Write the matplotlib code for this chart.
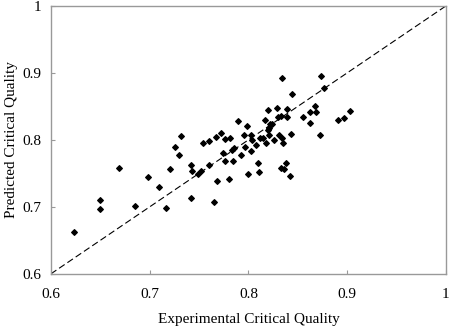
import numpy as np
import matplotlib
matplotlib.use("Agg")
import matplotlib.pyplot as plt

plt.rcParams['font.family'] = ['Liberation Serif', 'DejaVu Serif']

# experimental vs predicted critical quality
exp_q = [0.623, 0.650, 0.650, 0.669, 0.685, 0.698, 0.709, 0.717, 0.721, 0.726,
         0.730, 0.732, 0.742, 0.743, 0.742, 0.749, 0.752, 0.754, 0.760, 0.760,
         0.765, 0.767, 0.768, 0.772, 0.774, 0.776, 0.776, 0.780, 0.781, 0.783,
         0.784, 0.785, 0.789, 0.793, 0.796, 0.797, 0.799, 0.800, 0.803, 0.803,
         0.804, 0.808, 0.810, 0.811, 0.812, 0.815, 0.817, 0.818, 0.820, 0.820,
         0.821, 0.821, 0.822, 0.824, 0.826, 0.829, 0.830, 0.831, 0.833, 0.833,
         0.834, 0.834, 0.835, 0.836, 0.838, 0.839, 0.839, 0.842, 0.843, 0.844,
         0.855, 0.862, 0.862, 0.867, 0.868, 0.872, 0.873, 0.877, 0.891, 0.897,
         0.903]
pred_q = [0.662, 0.710, 0.697, 0.758, 0.702, 0.744, 0.730, 0.698, 0.757, 0.789,
          0.778, 0.806, 0.762, 0.753, 0.713, 0.749, 0.754, 0.796, 0.799, 0.762,
          0.708, 0.805, 0.739, 0.811, 0.781, 0.769, 0.802, 0.742, 0.803, 0.785,
          0.768, 0.788, 0.828, 0.778, 0.808, 0.790, 0.821, 0.749, 0.808, 0.784,
          0.800, 0.792, 0.765, 0.752, 0.803, 0.803, 0.829, 0.796, 0.845, 0.815,
          0.818, 0.808, 0.824, 0.824, 0.800, 0.848, 0.834, 0.808, 0.758, 0.835,
          0.893, 0.803, 0.795, 0.757, 0.765, 0.846, 0.834, 0.746, 0.809, 0.869,
          0.834, 0.842, 0.825, 0.851, 0.842, 0.808, 0.895, 0.877, 0.829, 0.833,
          0.843]

ticks = [0.6, 0.7, 0.8, 0.9, 1.0]
tick_labels = ['0.6', '0.7', '0.8', '0.9', '1']

fig = plt.figure(figsize=(4.5, 3.28), dpi=100)
ax = fig.add_axes([0.113, 0.165, 0.878, 0.817])

ax.plot([0.6, 1.0], [0.6, 1.0], color='black', linestyle=(0, (6, 3)), linewidth=0.8)
ax.scatter(exp_q, pred_q, marker='D', s=8, color='black', zorder=3)

ax.set_xlim(0.6, 1.0)
ax.set_ylim(0.6, 1.0)
ax.set_xticks(ticks)
ax.set_xticklabels(tick_labels)
ax.set_yticks(ticks)
ax.set_yticklabels(tick_labels)
ax.tick_params(direction='in', length=3, color='#999999', labelsize=11)
ax.tick_params(axis='x', pad=10)
ax.tick_params(axis='y', pad=7)

for s in ax.spines.values():
    s.set_color('#999999')
    s.set_linewidth(1.0)

ax.set_xlabel('Experimental Critical Quality', fontsize=11, labelpad=9)
ax.set_ylabel('Predicted Critical Quality', fontsize=11, labelpad=3)

fig.savefig('out.png', dpi=100)
